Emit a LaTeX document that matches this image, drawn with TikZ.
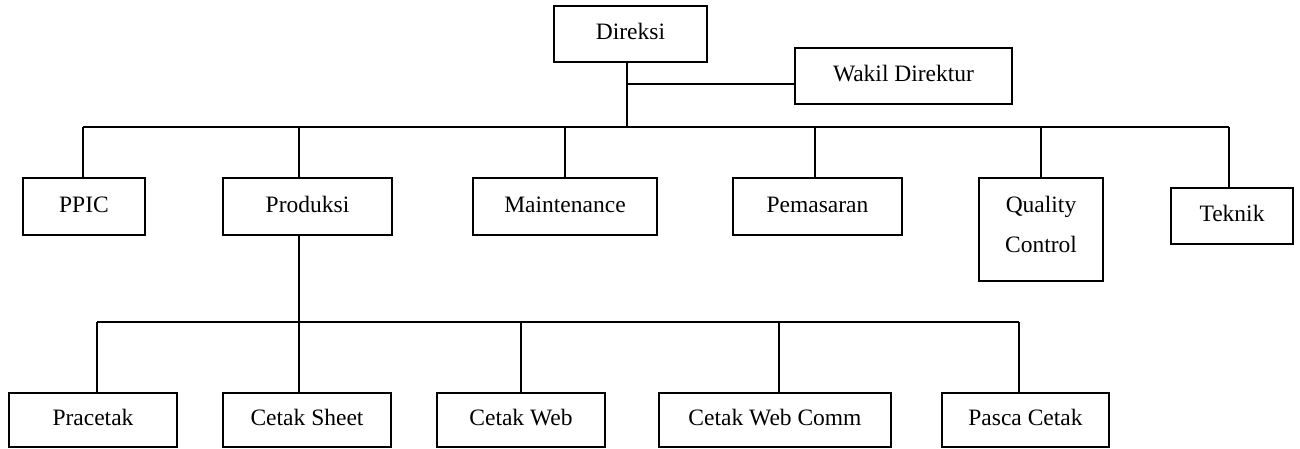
\documentclass[tikz,border=0pt]{standalone}
\usepackage{fontspec}
\setmainfont{Liberation Serif}
\begin{document}
\begin{tikzpicture}[x=1pt,y=-1pt,
  box/.style={draw,line width=1.3pt,inner sep=0pt,font=\fontsize{23.5}{40}\selectfont},
  onebox/.style={box,text height=16pt,text depth=5pt},
  conn/.style={line width=1.3pt}]
\useasboundingbox (0,0) rectangle (1300,448);
% top level
\node[onebox,minimum width=153,minimum height=56] (dir) at (630.5,34) {Direksi};
\node[onebox,minimum width=217,minimum height=56] (wak) at (903.5,76) {Wakil Direktur};
% second level
\node[onebox,minimum width=122,minimum height=57] (ppic) at (84,206.5) {PPIC};
\node[onebox,minimum width=169,minimum height=57] (prod) at (307.5,206.5) {Produksi};
\node[onebox,minimum width=184,minimum height=57] (main) at (565,206.5) {Maintenance};
\node[onebox,minimum width=169,minimum height=57] (pem) at (817.5,206.5) {Pemasaran};
\node[box,minimum width=124,minimum height=103,align=center,text depth=10pt] (qc) at (1041,229.5) {Quality\\Control};
\node[onebox,minimum width=122,minimum height=56] (tek) at (1232,216) {Teknik};
% third level
\node[onebox,minimum width=168,minimum height=54] (pra) at (93,420) {Pracetak};
\node[onebox,minimum width=168,minimum height=54] (cs) at (307,420) {Cetak Sheet};
\node[onebox,minimum width=168,minimum height=54] (cw) at (521,420) {Cetak Web};
\node[onebox,minimum width=232,minimum height=54] (cwc) at (775,420) {Cetak Web Comm};
\node[onebox,minimum width=167,minimum height=54] (pc) at (1025.5,420) {Pasca Cetak};
% junction coordinates
\coordinate (tr) at (627,127);
\coordinate (wj) at (627,84);
\coordinate (b1) at (83,127);
\coordinate (b2) at (299,127);
\coordinate (b3) at (565,127);
\coordinate (b4) at (815,127);
\coordinate (b5) at (1041,127);
\coordinate (b6) at (1229,127);
\coordinate (s1) at (97,322);
\coordinate (s2) at (299,322);
\coordinate (s3) at (521,322);
\coordinate (s4) at (779,322);
\coordinate (s5) at (1019,322);
% connectors
\draw[conn] (dir.south -| tr) -- (tr);
\draw[conn] (wj) -- (wak.west |- wj);
\draw[conn] (b1) -- (b6);
\draw[conn] (b1) -- (ppic.north -| b1);
\draw[conn] (b2) -- (prod.north -| b2);
\draw[conn] (b3) -- (main.north -| b3);
\draw[conn] (b4) -- (pem.north -| b4);
\draw[conn] (b5) -- (qc.north -| b5);
\draw[conn] (b6) -- (tek.north -| b6);
\draw[conn] (prod.south -| s2) -- (s2);
\draw[conn] (s1) -- (s5);
\draw[conn] (s1) -- (pra.north -| s1);
\draw[conn] (s2) -- (cs.north -| s2);
\draw[conn] (s3) -- (cw.north -| s3);
\draw[conn] (s4) -- (cwc.north -| s4);
\draw[conn] (s5) -- (pc.north -| s5);
\end{tikzpicture}
\end{document}
